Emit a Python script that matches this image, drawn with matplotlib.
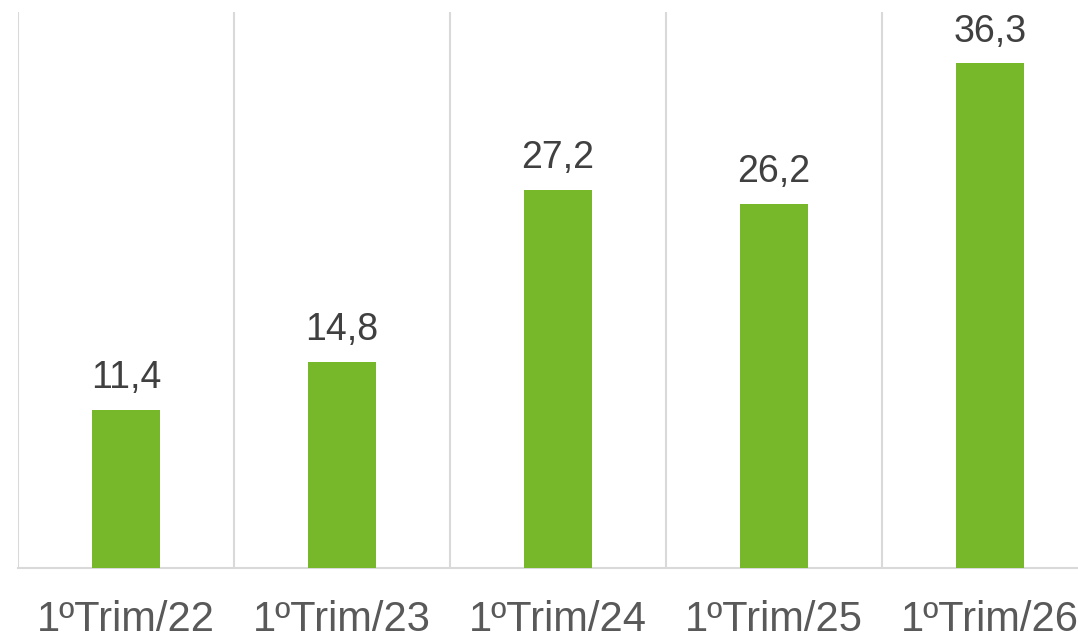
import matplotlib
matplotlib.use("Agg")
import matplotlib.pyplot as plt

categories = ["1ºTrim/22", "1ºTrim/23", "1ºTrim/24", "1ºTrim/25", "1ºTrim/26"]
values = [11.4, 14.8, 27.2, 26.2, 36.3]
labels = ["11,4", "14,8", "27,2", "26,2", "36,3"]

plt.rcParams['font.family'] = ['Liberation Sans', 'DejaVu Sans']

fig = plt.figure(figsize=(10.78, 6.36), dpi=100)
ax = fig.add_axes([18/1078, 1-568/636, 1080/1078, (568-12)/636])

x = list(range(len(categories)))
ax.bar(x, values, width=0.315, color="#76B82A", zorder=3)
for xi, v, lab in zip(x, values, labels):
    ax.annotate(lab, (xi, v), xytext=(0, 10), textcoords="offset points",
                ha="center", va="bottom", fontsize=27, color="#404040")

ax.set_xlim(-0.5, len(categories) - 0.5)
ax.set_ylim(0, 40)
for b in range(len(categories) + 1):
    ax.axvline(b - 0.5, color="#d9d9d9", lw=1.5, zorder=1)

ax.set_xticks(x)
ax.set_xticklabels(categories, fontsize=30, color="#595959")
ax.tick_params(axis="x", length=0, pad=23)
ax.set_yticks([])
for s in ["top", "right", "left"]:
    ax.spines[s].set_visible(False)
ax.spines["bottom"].set_color("#d9d9d9")
ax.spines["bottom"].set_linewidth(1.5)

fig.savefig("out.png", dpi=100)
